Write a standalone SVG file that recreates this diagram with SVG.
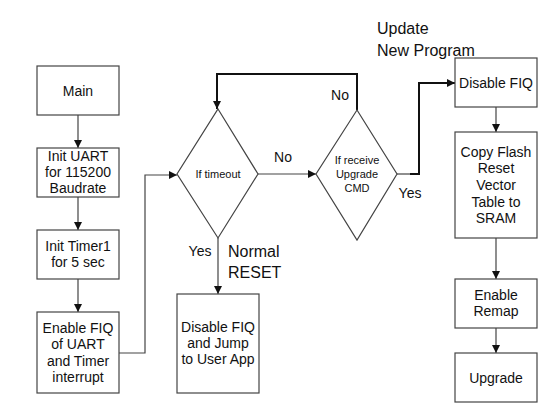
<svg xmlns="http://www.w3.org/2000/svg" width="554" height="412" viewBox="0 0 554 412">
<defs>
<marker id="arr" viewBox="0 0 10 10" refX="10" refY="5" markerWidth="8" markerHeight="8" markerUnits="userSpaceOnUse" orient="auto">
<path d="M0,0 L10,5 L0,10 z" fill="#111"/>
</marker>
</defs>
<style>
.box{fill:#fff;stroke:#444;stroke-width:1.2}
.t{font-family:"Liberation Sans",Arial,sans-serif;font-size:14px;fill:#111;text-anchor:middle;dominant-baseline:central}
.d{font-family:"Liberation Sans",Arial,sans-serif;font-size:11px;fill:#111;text-anchor:middle;dominant-baseline:central}
.lbl{font-family:"Liberation Sans",Arial,sans-serif;font-size:14px;fill:#111;dominant-baseline:central}
.big{font-family:"Liberation Sans",Arial,sans-serif;font-size:16px;fill:#111;dominant-baseline:central}
.c{fill:none;stroke:#444;stroke-width:1.2}
.cb{fill:none;stroke:#111;stroke-width:2}
</style>
<rect width="554" height="412" fill="#fff"/>
<g id="connectors">
<path class="c" d="M78,115 V148" marker-end="url(#arr)"/>
<path class="c" d="M78,197 V230" marker-end="url(#arr)"/>
<path class="c" d="M78,279 V312" marker-end="url(#arr)"/>
<path class="c" d="M119,353 H145 V175 H177" marker-end="url(#arr)"/>
<path class="c" d="M258,174 H316" marker-end="url(#arr)"/>
<path class="c" d="M218,238 V294" marker-end="url(#arr)"/>
<path class="cb" d="M357,110 V74 H217 V109" marker-end="url(#arr)"/>
<path class="c" d="M397,174 H410"/>
<path class="cb" d="M410,174 H419 V83 H455" marker-end="url(#arr)"/>
<path class="c" d="M496,107 V132" marker-end="url(#arr)"/>
<path class="c" d="M496,238 V279" marker-end="url(#arr)"/>
<path class="c" d="M496,328 V353" marker-end="url(#arr)"/>
</g>
<g id="main"><rect class="box" x="37" y="66" width="82" height="49"/><text class="t" x="78" y="90.5">Main</text></g>
<g id="init-uart"><rect class="box" x="37" y="148" width="82" height="49"/><text class="t" x="78" y="156">Init UART</text><text class="t" x="78" y="172">for 115200</text><text class="t" x="78" y="188">Baudrate</text></g>
<g id="init-timer"><rect class="box" x="37" y="230" width="82" height="49"/><text class="t" x="78" y="246">Init Timer1</text><text class="t" x="78" y="262">for 5 sec</text></g>
<g id="enable-fiq"><rect class="box" x="37" y="312" width="82" height="81"/><text class="t" x="78" y="328">Enable FIQ</text><text class="t" x="78" y="344">of UART</text><text class="t" x="78" y="361">and Timer</text><text class="t" x="78" y="377">interrupt</text></g>
<g id="if-timeout"><polygon class="box" points="218,109 258,174 218,238 177,174"/><text class="d" x="218" y="174">If timeout</text></g>
<g id="if-receive"><polygon class="box" points="357,110 397,174 357,240 316,174"/><text class="d" x="357" y="160">If receive</text><text class="d" x="357" y="174">Upgrade</text><text class="d" x="357" y="188">CMD</text></g>
<g id="disable-jump"><rect class="box" x="177" y="294" width="82" height="99"/><text class="t" x="218" y="327">Disable FIQ</text><text class="t" x="218" y="343">and Jump</text><text class="t" x="218" y="359">to User App</text></g>
<g id="disable-fiq"><rect class="box" x="455" y="58" width="82" height="49"/><text class="t" x="496" y="82.5">Disable FIQ</text></g>
<g id="copy-flash"><rect class="box" x="455" y="132" width="82" height="106"/><text class="t" x="496" y="152">Copy Flash</text><text class="t" x="496" y="168">Reset</text><text class="t" x="496" y="185">Vector</text><text class="t" x="496" y="202">Table to</text><text class="t" x="496" y="218">SRAM</text></g>
<g id="enable-remap"><rect class="box" x="455" y="279" width="82" height="49"/><text class="t" x="496" y="295">Enable</text><text class="t" x="496" y="311">Remap</text></g>
<g id="upgrade"><rect class="box" x="455" y="353" width="82" height="49"/><text class="t" x="496" y="377.5">Upgrade</text></g>
<g id="labels">
<text class="lbl" x="283" y="157" text-anchor="middle">No</text>
<text class="lbl" x="340" y="95" text-anchor="middle">No</text>
<text class="lbl" x="410" y="193" text-anchor="middle">Yes</text>
<text class="lbl" x="200" y="251" text-anchor="middle">Yes</text>
<text class="big" x="228" y="251">Normal</text>
<text class="big" x="228" y="272">RESET</text>
<text class="big" x="377" y="28">Update</text>
<text class="big" x="377" y="50">New Program</text>
</g>
</svg>
